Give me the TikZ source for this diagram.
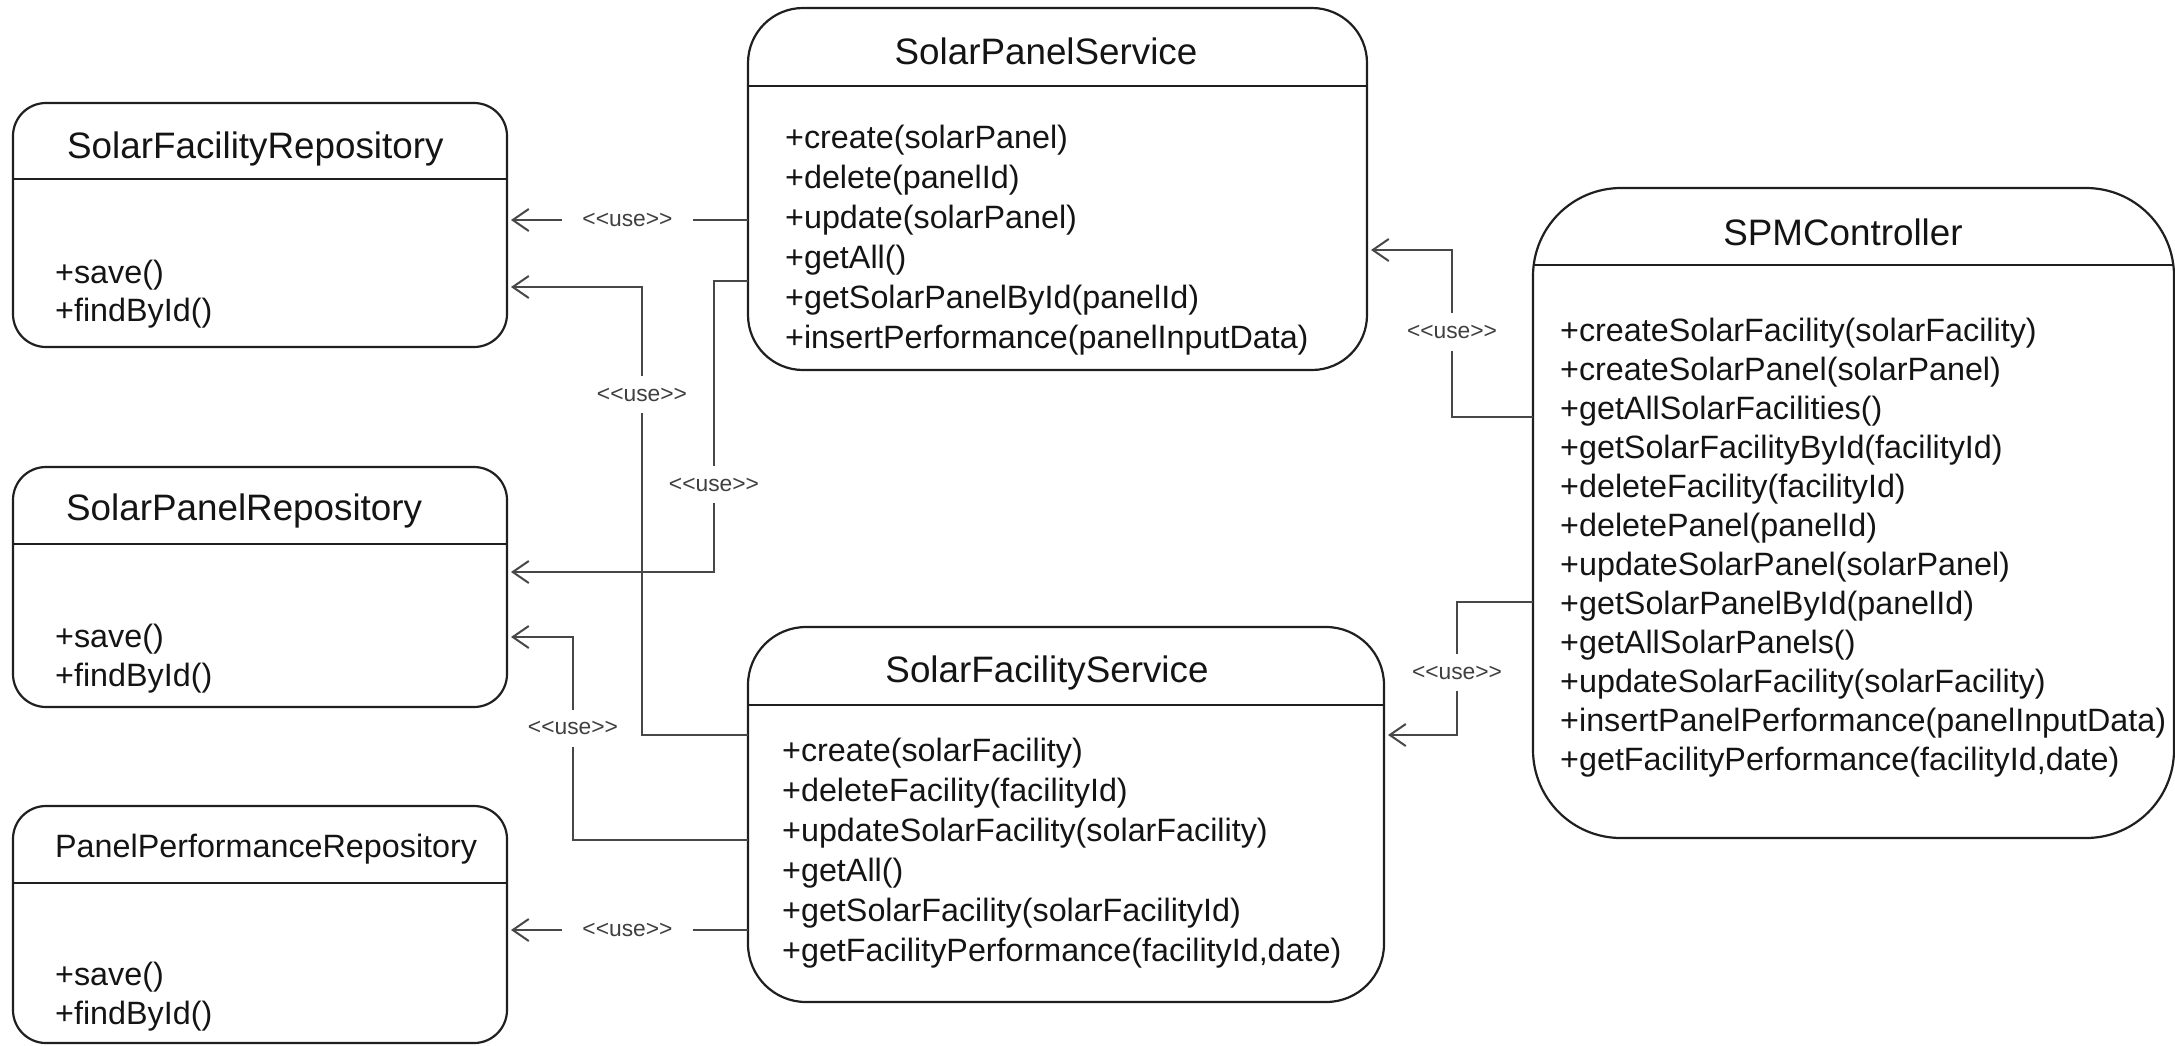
\documentclass[tikz,border=0pt]{standalone}
\usepackage{fontspec}
\setmainfont{Liberation Sans}
\usetikzlibrary{arrows.meta,calc}

% stereotype text; the kerns keep << and >> from becoming guillemets
\newcommand\uselbl{<\kern0pt<use>\kern0pt>}

\begin{document}
\begin{tikzpicture}[x=1pt,y=-1pt,
  umlbox/.style={draw=black!88, line width=2.2pt, rounded corners=#1,
    inner sep=0pt, outer sep=0pt, anchor=north west},
  umlbox/.default=33pt,
  divider/.style={draw=black!88, line width=2.2pt},
  titletext/.style={inner sep=0pt, font=\fontsize{36.8pt}{44pt}\selectfont, text=black!92},
  smalltitle/.style={inner sep=0pt, font=\fontsize{32.3pt}{40pt}\selectfont, text=black!92},
  itemtext/.style={inner sep=0pt, anchor=base west,
    font=\fontsize{32.3pt}{40pt}\selectfont, text=black!92},
  usearrow/.style={draw=black!72, line width=2pt, shorten >=4pt,
    -{Straight Barb[length=16pt,width=22pt,line width=2pt]}},
  uselabel/.style={fill=white, inner xsep=20pt, inner ysep=12pt,
    font=\fontsize{22.8pt}{26pt}\selectfont, text=black!75},
]
\useasboundingbox (0,0) rectangle (2175,1045);

% ---------- class boxes ----------
\node[umlbox, minimum width=494pt, minimum height=244pt] (sfr) at (13,103) {};
\node[umlbox, minimum width=494pt, minimum height=240pt] (spr) at (13,467) {};
\node[umlbox, minimum width=494pt, minimum height=237pt] (ppr) at (13,806) {};
\node[umlbox=55pt, minimum width=619pt, minimum height=362pt] (sps) at (748,8) {};
\node[umlbox=58pt, minimum width=636pt, minimum height=375pt] (sfs) at (748,627) {};
\node[umlbox=88pt, minimum width=641pt, minimum height=650pt] (spm) at (1533,188) {};

% header dividers
\draw[divider] (sfr.north west) ++(0,76) -- ++(494,0);
\draw[divider] (spr.north west) ++(0,77) -- ++(494,0);
\draw[divider] (ppr.north west) ++(0,77) -- ++(494,0);
\draw[divider] (sps.north west) ++(0,78) -- ++(619,0);
\draw[divider] (sfs.north west) ++(0,78) -- ++(636,0);
\draw[divider] (spm.north west) ++(1,77) -- ++(640,0);

% ---------- titles ----------
\node[titletext, anchor=base west] (sfr-t) at (67,158) {SolarFacilityRepository};
\node[titletext, anchor=base west] (spr-t) at (66,520) {SolarPanelRepository};
\node[smalltitle, anchor=base west] (ppr-t) at (55,857) {PanelPerformanceRepository};
\node[titletext, anchor=base] (sps-t) at (1046,64) {SolarPanelService};
\node[titletext, anchor=base] (sfs-t) at (1047,682) {SolarFacilityService};
\node[titletext, anchor=base] (spm-t) at (1843,245) {SPMController};

% ---------- operations ----------
\node[itemtext] (sfr-m1) at (55,283) {+save()};
\node[itemtext] (sfr-m2) at (55,321) {+findById()};
\node[itemtext] (spr-m1) at (55,647) {+save()};
\node[itemtext] (spr-m2) at (55,686) {+findById()};
\node[itemtext] (ppr-m1) at (55,985) {+save()};
\node[itemtext] (ppr-m2) at (55,1024) {+findById()};

\foreach \t [count=\i] in {+create(solarPanel), +delete(panelId),
    +update(solarPanel), +getAll(), +getSolarPanelById(panelId),
    +insertPerformance(panelInputData)}
  \node[itemtext] (sps-m\i) at (785,{148+40*(\i-1)}) {\t};

\foreach \t [count=\i] in {+create(solarFacility), +deleteFacility(facilityId),
    +updateSolarFacility(solarFacility), +getAll(),
    +getSolarFacility(solarFacilityId), {+getFacilityPerformance(facilityId,date)}}
  \node[itemtext] (sfs-m\i) at (782,{761+40*(\i-1)}) {\t};

\foreach \t [count=\i] in {+createSolarFacility(solarFacility),
    +createSolarPanel(solarPanel), +getAllSolarFacilities(),
    +getSolarFacilityById(facilityId), +deleteFacility(facilityId),
    +deletePanel(panelId), +updateSolarPanel(solarPanel),
    +getSolarPanelById(panelId), +getAllSolarPanels(),
    +updateSolarFacility(solarFacility),
    +insertPanelPerformance(panelInputData),
    {+getFacilityPerformance(facilityId,date)}}
  \node[itemtext] (spm-m\i) at (1560,{341+39*(\i-1)}) {\t};

% ---------- connector end points ----------
\coordinate (sps-o1) at ($(sps.north west)+(0,212)$);
\coordinate (sps-o2) at ($(sps.north west)+(0,273)$);
\coordinate (sps-i1) at ($(sps.north east)+(0,242)$);
\coordinate (sfs-o1) at ($(sfs.north west)+(0,108)$);
\coordinate (sfs-o2) at ($(sfs.north west)+(0,213)$);
\coordinate (sfs-o3) at ($(sfs.north west)+(0,303)$);
\coordinate (sfs-i1) at ($(sfs.north east)+(0,108)$);
\coordinate (spm-o1) at ($(spm.north west)+(0,229)$);
\coordinate (spm-o2) at ($(spm.north west)+(0,414)$);
\coordinate (sfr-i2) at ($(sfr.north east)+(0,184)$);
\coordinate (spr-i1) at ($(spr.north east)+(0,105)$);
\coordinate (spr-i2) at ($(spr.north east)+(0,170)$);

% vertical routing channels
\coordinate (col-a) at (642,0);
\coordinate (col-b) at (714,0);
\coordinate (col-c) at (573,0);
\coordinate (col-d) at (1452,0);
\coordinate (col-e) at (1457,0);

% ---------- <<use>> dependencies ----------
\draw[usearrow] (sps-o1) -- node[uselabel] {\uselbl} (sps-o1 -| sfr.east);
\draw[usearrow] (sfs-o1) -- (sfs-o1 -| col-a)
  -- node[uselabel, pos=0.76] {\uselbl} (col-a |- sfr-i2) -- (sfr-i2);
\draw[usearrow] (sps-o2) -- (sps-o2 -| col-b)
  -- node[uselabel, pos=0.70] {\uselbl} (col-b |- spr-i1) -- (spr-i1);
\draw[usearrow] (sfs-o2) -- (sfs-o2 -| col-c)
  -- node[uselabel, pos=0.55] {\uselbl} (col-c |- spr-i2) -- (spr-i2);
\draw[usearrow] (sfs-o3) -- node[uselabel] {\uselbl} (sfs-o3 -| ppr.east);
\draw[usearrow] (spm-o1) -- (spm-o1 -| col-d)
  -- node[uselabel, pos=0.51] {\uselbl} (col-d |- sps-i1) -- (sps-i1);
\draw[usearrow] (spm-o2) -- (spm-o2 -| col-e)
  -- node[uselabel, pos=0.53] {\uselbl} (col-e |- sfs-i1) -- (sfs-i1);
\end{tikzpicture}
\end{document}
